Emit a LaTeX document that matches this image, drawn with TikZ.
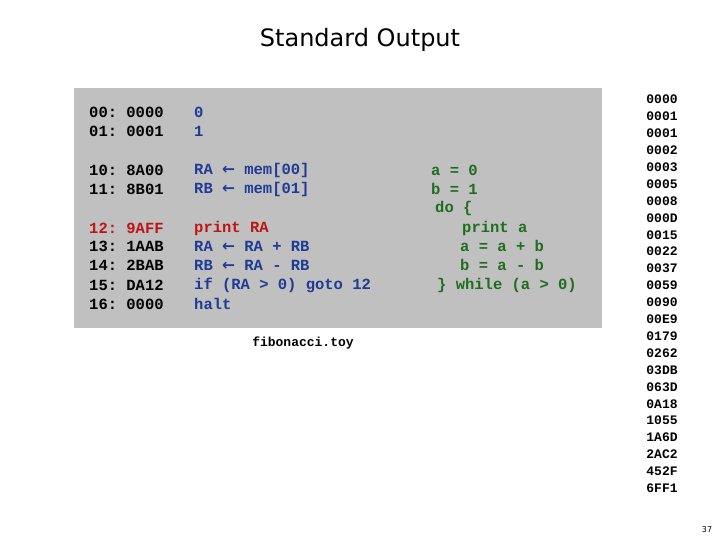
\documentclass[tikz,border=0pt]{standalone}
\usepackage{fontspec}
\setmonofont{Liberation Mono}
\setsansfont{DejaVu Sans}
\newfontfamily\arrfont{DejaVu Sans}
\begin{document}
\begin{tikzpicture}[x=1pt,y=-1pt,
  code/.style={font=\ttfamily\bfseries\fontsize{15.5}{19}\selectfont, anchor=west, inner sep=0},
  col/.style={font=\ttfamily\bfseries\fontsize{13}{16.9}\selectfont, inner sep=0, align=center}]
\definecolor{bl}{RGB}{30,60,150}
\definecolor{gr}{RGB}{30,110,30}
\definecolor{rd}{RGB}{190,20,20}
\definecolor{gy}{RGB}{192,192,192}
\newcommand\larr{{\arrfont\bfseries ←}}
\useasboundingbox (0,0) rectangle (720,540);
\fill[gy] (74,88) rectangle (602,328);
\node[font=\sffamily\fontsize{24}{28}\selectfont] (title) at (360,40) {Standard Output};
\foreach \y/\a/\b in {112/00: 0000/0, 131/01: 0001/1}{
  \node[code] at (89,\y) {\a}; \node[code,text=bl] at (194,\y) {\b};}
\node[code] (l10) at (89,170) {10: 8A00};
\node[code] (l11) at (89,189) {11: 8B01};
\node[code,text=bl] (c10) at (194,170) {RA \larr{} mem[00]};
\node[code,text=bl] (c11) at (194,189) {RB \larr{} mem[01]};
\node[code,text=rd] (l12) at (89,228) {12: 9AFF};
\node[code] (l13) at (89,246) {13: 1AAB};
\node[code] (l14) at (89,265) {14: 2BAB};
\node[code] (l15) at (89,285) {15: DA12};
\node[code] (l16) at (89,304) {16: 0000};
\node[code,text=rd] (c12) at (194,228) {print RA};
\node[code,text=bl] (c13) at (194,246) {RA \larr{} RA + RB};
\node[code,text=bl] (c14) at (194,265) {RB \larr{} RA - RB};
\node[code,text=bl] (c15) at (194,285) {if (RA > 0) goto 12};
\node[code,text=bl] (c16) at (194,304) {halt};
\node[code,text=gr] (g1) at (431,170) {a = 0};
\node[code,text=gr] (g2) at (431,189) {b = 1};
\node[code,text=gr] (g3) at (435,208) {do \{};
\node[code,text=gr] (g4) at (462,228) {print a};
\node[code,text=gr] (g5) at (460,246) {a = a + b};
\node[code,text=gr] (g6) at (460,265) {b = a - b};
\node[code,text=gr] (g7) at (437,285) {\} while (a > 0)};
\node[font=\ttfamily\bfseries\fontsize{13}{15}\selectfont, inner sep=0] (fn) at (303,343) {fibonacci.toy};
\node[col, anchor=north] (out) at (662,95) {0000\\0001\\0001\\0002\\0003\\0005\\0008\\000D\\0015\\0022\\0037\\0059\\0090\\00E9\\0179\\0262\\03DB\\063D\\0A18\\1055\\1A6D\\2AC2\\452F\\6FF1};
\node[font=\sffamily\fontsize{8}{10}\selectfont] (pg) at (707,530) {37};
\end{tikzpicture}
\end{document}
